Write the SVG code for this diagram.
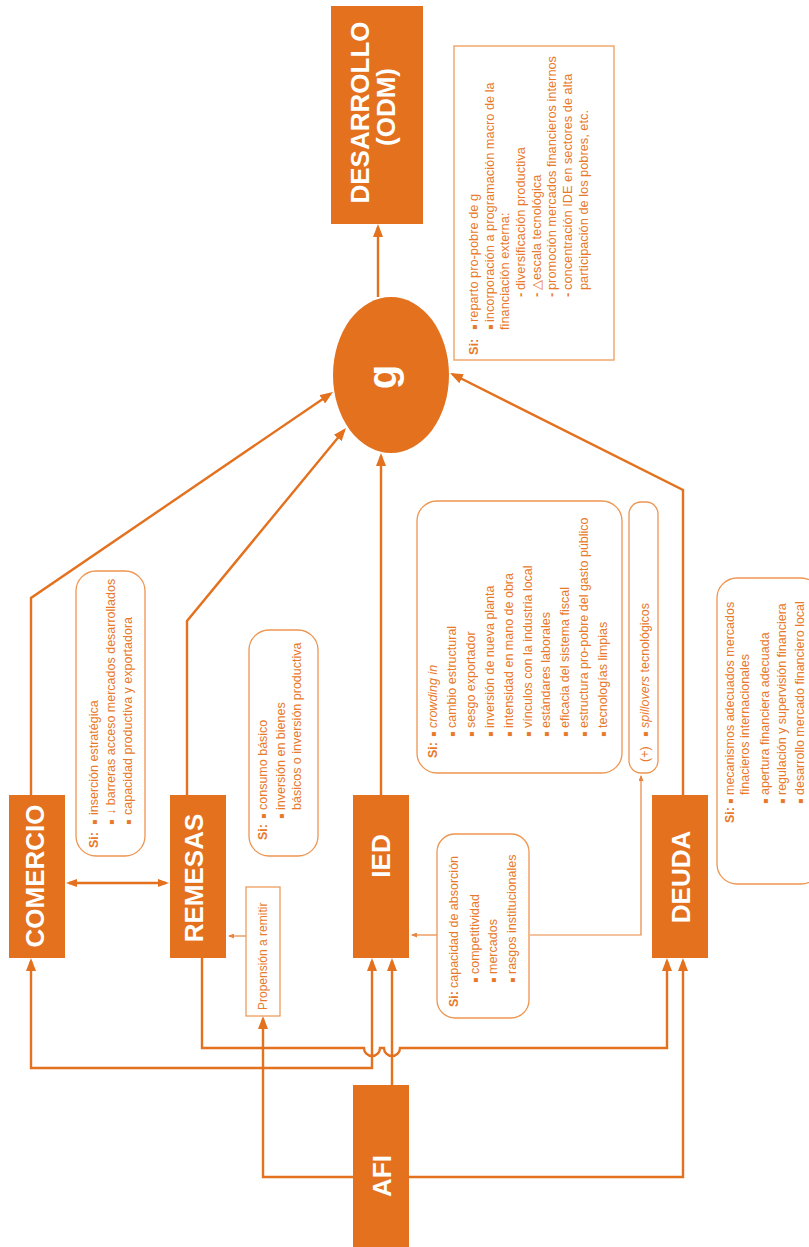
<svg xmlns="http://www.w3.org/2000/svg" width="809" height="1247" viewBox="0 0 809 1247">
<style>
.n{fill:#E3711E;}
.lbl{font-family:"Liberation Sans",Arial,sans-serif;font-weight:bold;fill:#fff;font-size:26px;text-anchor:middle;}
.t{font-family:"Liberation Sans",Arial,sans-serif;font-size:12.5px;fill:#E8792A;}
.b{font-weight:bold;}
.i{font-style:italic;}
.bl{font-family:"DejaVu Sans",sans-serif;font-size:8px;}
.box{fill:#fff;stroke:#EE9550;stroke-width:1.3;}
.c{fill:none;stroke:#E3711E;stroke-width:2.4;}
.cs{fill:none;stroke:#E8853F;stroke-width:1.2;}
</style>
<defs>
<marker id="ah" markerUnits="userSpaceOnUse" markerWidth="13" markerHeight="10" refX="10" refY="5" orient="auto-start-reverse"><path d="M0,0 L13,5 L0,10 z" fill="#E3711E"/></marker>
<marker id="ahm" markerUnits="userSpaceOnUse" markerWidth="11" markerHeight="8" refX="8" refY="4" orient="auto-start-reverse"><path d="M0,0 L11,4 L0,8 z" fill="#E3711E"/></marker>
<marker id="ahs" markerUnits="userSpaceOnUse" markerWidth="6" markerHeight="5" refX="5" refY="2.5" orient="auto"><path d="M0,0 L6,2.5 L0,5 z" fill="#E8853F"/></marker>
</defs>

<g id="connectors">
<path class="c" d="M378,297 V227" marker-end="url(#ah)"/>
<path class="c" d="M31,795 V598 L330.5,393.7" marker-end="url(#ah)"/>
<path class="c" d="M187,795 V621 L344.1,430.3" marker-end="url(#ah)"/>
<path class="c" d="M381,795 V456" marker-end="url(#ah)"/>
<path class="c" d="M683,795 V490 L452.7,374.3" marker-end="url(#ah)"/>
<path class="c" d="M69,883 H166" marker-start="url(#ahm)" marker-end="url(#ahm)"/>
<path class="c" d="M31,961 V1068 H372 V961" marker-start="url(#ah)" marker-end="url(#ah)"/>
<path class="c" d="M202,958 V1048 H364 A8,8 0 0 0 380,1048 H384 A8,8 0 0 0 400,1048 H667 V961" marker-end="url(#ah)"/>
<path class="c" d="M392,1085 V961" marker-end="url(#ah)"/>
<path class="c" d="M409,1177 H683 V961" marker-end="url(#ah)"/>
<path class="c" d="M353,1177 H263 V1019" marker-end="url(#ah)"/>
<path class="cs" d="M246,936 H229" marker-end="url(#ahs)"/>
<path class="cs" d="M437,935 H412" marker-end="url(#ahs)"/>
<path class="cs" d="M530,935 H641 V776" marker-end="url(#ahs)"/>
</g>

<g id="desarrollo">
<rect class="n" x="331" y="6" width="92" height="218"/>
<text class="lbl" transform="matrix(0,-1,1,0,0,1247)" x="1134.5" y="369">DESARROLLO</text>
<text class="lbl" transform="matrix(0,-1,1,0,0,1247)" x="1140" y="395">(ODM)</text>
</g>

<g id="g">
<ellipse class="n" cx="391" cy="375" rx="58" ry="78"/>
<text class="lbl" style="font-size:40px" transform="matrix(0,-1,1,0,0,1247)" x="870" y="396">g</text>
</g>

<g id="nota">
<rect x="454" y="46" width="160" height="314" fill="#fff" stroke="#F2A96E" stroke-width="1.5"/>
<g class="t" style="font-size:12.8px" transform="matrix(0,-1,1,0,0,1247)">
<text x="892" y="478" class="b">Si:</text>
<text x="917" y="477" class="bl">▪</text><text x="925" y="478">reparto pro-pobre de g</text>
<text x="917" y="493" class="bl">▪</text><text x="925" y="494">incorporación a programación macro de la</text>
<text x="917" y="509">financiación externa:</text>
<text x="950" y="525" class="b">-</text><text x="957" y="525">diversificación productiva</text>
<text x="950" y="541" class="b">-</text><text x="957" y="541">△escala tecnológica</text>
<text x="950" y="556" class="b">-</text><text x="957" y="556">promoción mercados financieros internos</text>
<text x="950" y="572" class="b">-</text><text x="957" y="572">concentración IDE en sectores de alta</text>
<text x="957" y="588">participación de los pobres, etc.</text>
</g>
</g>

<g id="comercio">
<rect class="n" x="9" y="795" width="56" height="163"/>
<text class="lbl" transform="matrix(0,-1,1,0,0,1247)" x="371" y="44">COMERCIO</text>
</g>
<g id="si-comercio">
<rect class="box" x="76" y="571" width="69" height="285" rx="20"/>
<g class="t" transform="matrix(0,-1,1,0,0,1247)">
<text x="399" y="98" class="b">Si:</text>
<text x="422" y="97" class="bl">▪</text><text x="432" y="98">inserción estratégica</text>
<text x="422" y="114" class="bl">▪</text><text x="432" y="115">↓ barreras acceso mercados desarrollados</text>
<text x="422" y="131" class="bl">▪</text><text x="432" y="132">capacidad productiva y exportadora</text>
</g>
</g>

<g id="remesas">
<rect class="n" x="170" y="795" width="56" height="163"/>
<text class="lbl" transform="matrix(0,-1,1,0,0,1247)" x="369" y="203">REMESAS</text>
</g>
<g id="si-remesas">
<rect class="box" x="249" y="630" width="69" height="226" rx="20"/>
<g class="t" transform="matrix(0,-1,1,0,0,1247)">
<text x="407" y="267" class="b">Si:</text>
<text x="428" y="266" class="bl">▪</text><text x="437" y="267">consumo básico</text>
<text x="428" y="284" class="bl">▪</text><text x="437" y="285">inversión en bienes</text>
<text x="437" y="301">básicos o inversión productiva</text>
</g>
</g>

<g id="propension">
<rect x="246" y="887" width="34" height="129" fill="#fff" stroke="#EE9550" stroke-width="1.2"/>
<text class="t" style="font-size:12px" transform="matrix(0,-1,1,0,0,1247)" x="237" y="267">Propensión a remitir</text>
</g>

<g id="ied">
<rect class="n" x="353" y="795" width="56" height="163"/>
<text class="lbl" transform="matrix(0,-1,1,0,0,1247)" x="391" y="390">IED</text>
</g>
<g id="si-ied">
<rect class="box" x="417" y="501" width="205" height="272" rx="20"/>
<g class="t" transform="matrix(0,-1,1,0,0,1247)">
<text x="489" y="437" class="b">Si:</text>
<text x="510" y="436" class="bl">▪</text><text x="519" y="437" class="i">crowding in</text>
<text x="510" y="454.9" class="bl">▪</text><text x="519" y="455.9">cambio estructural</text>
<text x="510" y="473.8" class="bl">▪</text><text x="519" y="474.8">sesgo exportador</text>
<text x="510" y="492.7" class="bl">▪</text><text x="519" y="493.7">inversión de nueva planta</text>
<text x="510" y="511.6" class="bl">▪</text><text x="519" y="512.6">intensidad en mano de obra</text>
<text x="510" y="530.5" class="bl">▪</text><text x="519" y="531.5">vínculos con la industria local</text>
<text x="510" y="549.4" class="bl">▪</text><text x="519" y="550.4">estándares laborales</text>
<text x="510" y="568.3" class="bl">▪</text><text x="519" y="569.3">eficacia del sistema fiscal</text>
<text x="510" y="587.2" class="bl">▪</text><text x="519" y="588.2">estructura pro-pobre del gasto público</text>
<text x="510" y="606.1" class="bl">▪</text><text x="519" y="607.1">tecnologías limpias</text>
</g>
</g>
<g id="spillovers">
<rect class="box" x="629" y="502" width="29" height="271" rx="12"/>
<g class="t" transform="matrix(0,-1,1,0,0,1247)">
<text x="485" y="649">(+)</text>
<text x="510" y="648" class="bl">▪</text><text x="519" y="649"><tspan class="i">spillovers</tspan> tecnológicos</text>
</g>
</g>
<g id="si-capacidad">
<rect class="box" x="437" y="834" width="92" height="184" rx="18"/>
<g class="t" transform="matrix(0,-1,1,0,0,1247)">
<text x="240" y="458" class="b">Si:</text>
<text x="259" y="458">capacidad de absorción</text>
<text x="264" y="478" class="bl">▪</text><text x="273" y="479">competitividad</text>
<text x="264" y="496" class="bl">▪</text><text x="273" y="497">mercados</text>
<text x="264" y="515" class="bl">▪</text><text x="273" y="516">rasgos institucionales</text>
</g>
</g>

<g id="deuda">
<rect class="n" x="652" y="795" width="56" height="163"/>
<text class="lbl" transform="matrix(0,-1,1,0,0,1247)" x="370" y="690">DEUDA</text>
</g>
<g id="si-deuda">
<rect class="box" x="717" y="578" width="104" height="306" rx="20"/>
<g class="t" transform="matrix(0,-1,1,0,0,1247)">
<text x="424" y="734" class="b">Si:</text>
<text x="443" y="733" class="bl">▪</text><text x="452" y="734">mecanismos adecuados mercados</text>
<text x="452" y="749">finacieros internacionales</text>
<text x="443" y="768" class="bl">▪</text><text x="452" y="769">apertura financiera adecuada</text>
<text x="443" y="785" class="bl">▪</text><text x="452" y="786">regulación y supervisión financiera</text>
<text x="443" y="803" class="bl">▪</text><text x="452" y="804">desarrollo mercado financiero local</text>
</g>
</g>

<g id="afi">
<rect class="n" x="353" y="1085" width="56" height="162"/>
<text class="lbl" transform="matrix(0,-1,1,0,0,1247)" x="71" y="391">AFI</text>
</g>
</svg>
